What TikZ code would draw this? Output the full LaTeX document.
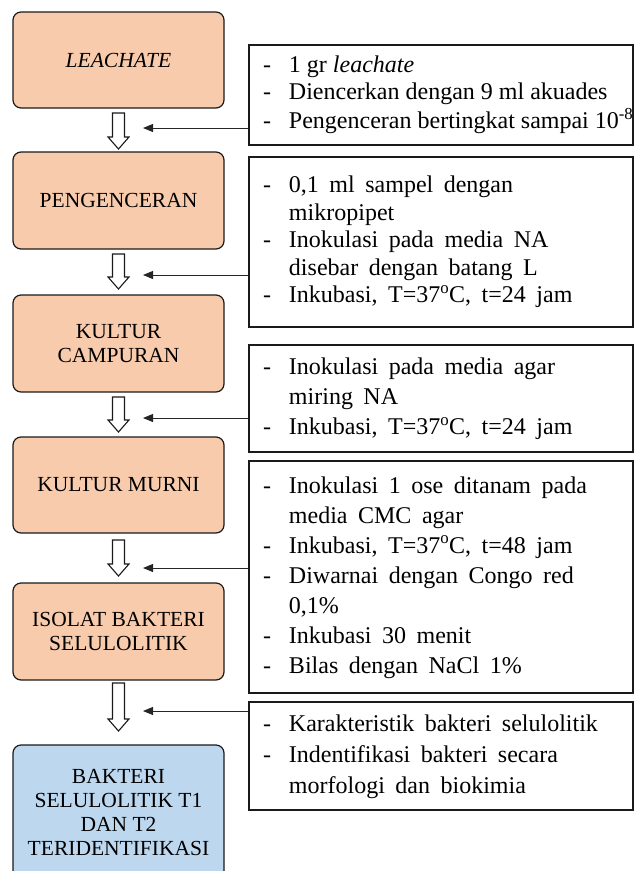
\documentclass[tikz,border=0pt]{standalone}
\usepackage{fontspec}
\setmainfont{Liberation Serif}
\usetikzlibrary{calc,arrows.meta}
\definecolor{peach}{HTML}{F8CBAD}
\definecolor{lightblue}{HTML}{BDD7EE}
\definecolor{edge}{HTML}{1A1A1A}
% hollow block arrow pointing down: top point, total length
\newcommand{\blockdown}[2]{%
  \draw[blockarrow] ($(#1)+(-6,0)$) -- ++(12,0) -- ++(0,{-#2+12}) -- ++(4.5,0)
    -- ++(-10.5,-12) -- ++(-10.5,12) -- ++(4.5,0) -- cycle;}
% dash list used inside the note boxes; optional argument is the word space
\newenvironment{notelist}[1][10.5pt]%
  {\spaceskip=#1 plus 1pt\relax\begin{tabular}{@{}l@{\hspace{18pt}}l@{}}}%
  {\end{tabular}}
\begin{document}
\begin{tikzpicture}[x=1pt,y=1pt,
  stepbox/.style={draw=edge, line width=1.2pt, rounded corners=8pt, fill=peach,
    minimum width=211pt, minimum height=97pt, align=center, inner sep=2pt,
    font=\fontsize{21.5}{24}\selectfont},
  notebox/.style={draw=edge, line width=1.3pt, minimum width=384pt,
    text width=356pt, inner xsep=14pt, inner ysep=0pt, align=left},
  blockarrow/.style={draw=edge, line width=1.1pt, fill=white},
  pointer/.style={draw=black!85, line width=0.9pt, -{Triangle[length=10pt,width=8pt]}}]
\useasboundingbox (0,0) rectangle (635,-871);
\clip (0,0) rectangle (635,-871);

% process steps
\node[stepbox, minimum height=96pt] (leach) at (118.5,-60) {\textit{LEACHATE}};
\node[stepbox] (dilute) at (118.5,-200.5) {PENGENCERAN};
\node[stepbox] (mixed) at (118.5,-343.5) {KULTUR\\CAMPURAN};
\node[stepbox, minimum height=96pt] (pure) at (118.5,-485) {KULTUR MURNI};
\node[stepbox] (isolate) at (118.5,-631.5) {ISOLAT BAKTERI\\SELULOLITIK};
\node[stepbox, fill=lightblue, minimum height=135pt] (result) at (118.5,-812.5)
  {BAKTERI\\SELULOLITIK T1\\DAN T2\\TERIDENTIFIKASI};

% hollow arrows between steps
\blockdown{118.5,-113}{36}
\blockdown{118.5,-254}{35}
\blockdown{118.5,-397}{35}
\blockdown{118.5,-540}{36}
\blockdown{118.5,-683}{48}

% procedure notes
\node[notebox, minimum height=100pt, font=\fontsize{24}{27}\selectfont] (n1) at (441,-95)
  {\begin{notelist}[6pt]
   - & 1 gr \textit{leachate}\\
   - & Diencerkan dengan 9 ml akuades\\
   - & Pengenceran bertingkat sampai 10\textsuperscript{-8}
   \end{notelist}};
\node[notebox, minimum height=170pt, font=\fontsize{24}{27.5}\selectfont] (n2) at (441,-242)
  {\begin{notelist}
   - & 0,1 ml sampel dengan\\
     & mikropipet\\
   - & Inokulasi pada media NA\\
     & disebar dengan batang L\\
   - & Inkubasi, T=37\textsuperscript{o}C, t=24 jam
   \end{notelist}};
\node[notebox, minimum height=107pt, font=\fontsize{24}{30}\selectfont] (n3) at (441,-398.5)
  {\begin{notelist}
   - & Inokulasi pada media agar\\
     & miring NA\\
   - & Inkubasi, T=37\textsuperscript{o}C, t=24 jam
   \end{notelist}};
\node[notebox, minimum height=232pt, font=\fontsize{24}{30}\selectfont] (n4) at (441,-577)
  {\begin{notelist}
   - & Inokulasi 1 ose ditanam pada\\
     & media CMC agar\\
   - & Inkubasi, T=37\textsuperscript{o}C, t=48 jam\\
   - & Diwarnai dengan Congo red\\
     & 0,1\%\\
   - & Inkubasi 30 menit\\
   - & Bilas dengan NaCl 1\%
   \end{notelist}};
\node[notebox, minimum height=108pt, font=\fontsize{24}{31}\selectfont] (n5) at (441,-756)
  {\begin{notelist}
   - & Karakteristik bakteri selulolitik\\
   - & Indentifikasi bakteri secara\\
     & morfologi dan biokimia
   \end{notelist}};

% pointers from the notes to the arrows
\coordinate (t1) at (143,-128);
\coordinate (t2) at (143,-275);
\coordinate (t3) at (143,-418);
\coordinate (t4) at (143,-568);
\coordinate (t5) at (143,-711);
\draw[pointer] (n1.west |- t1) -- (t1);
\draw[pointer] (n2.west |- t2) -- (t2);
\draw[pointer] (n3.west |- t3) -- (t3);
\draw[pointer] (n4.west |- t4) -- (t4);
\draw[pointer] (n5.west |- t5) -- (t5);
\end{tikzpicture}
\end{document}
